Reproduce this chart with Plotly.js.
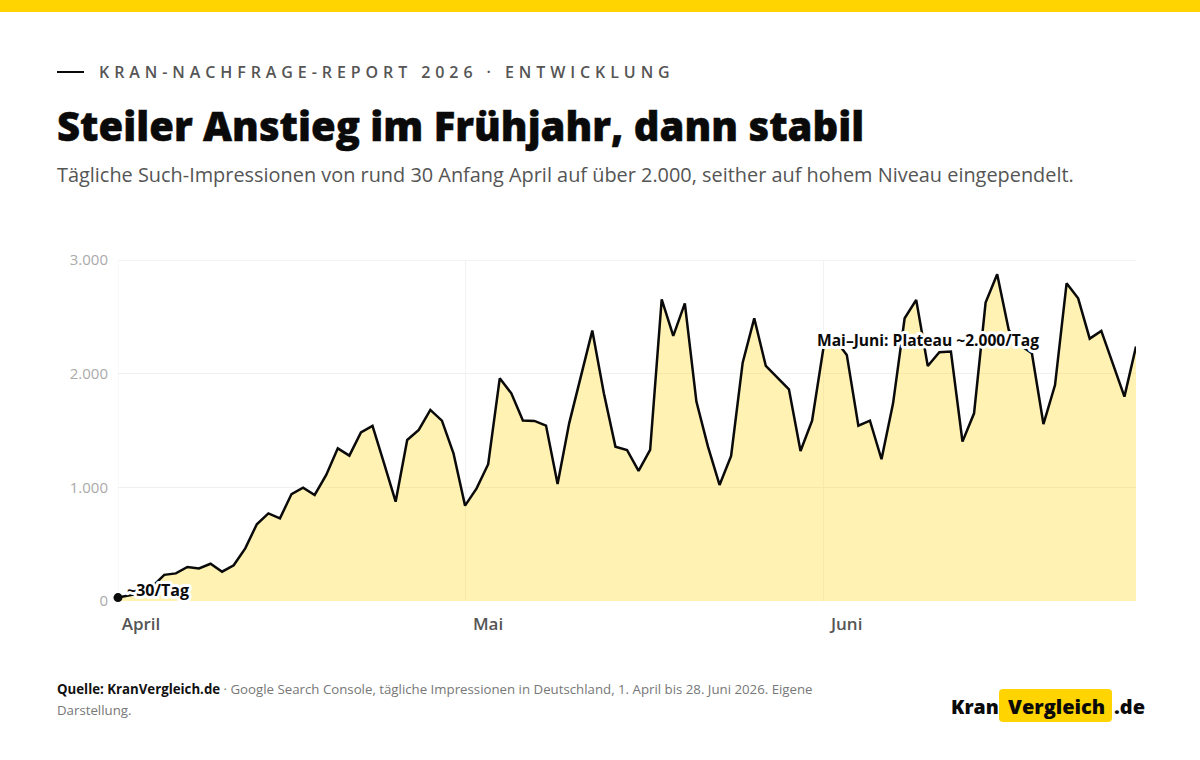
<!DOCTYPE html>
<html lang="de"><head><meta charset="utf-8">
<script src="https://cdn.plot.ly/plotly-3.0.1.min.js"></script>
<style>
html,body{margin:0;padding:0;background:#fff}
#c{width:1200px;height:760px}
.annotation[data-index="0"] text{letter-spacing:4.92px}
.annotation[data-index="2"] text,.annotation[data-index="3"] text{paint-order:stroke;stroke:#fff;stroke-width:6px;stroke-linejoin:round}
.gtitle{stroke:#0a0a0a;stroke-width:.5px}
</style></head><body><div id="c"></div>
<script>
const impressions = [30,50,70,130,230,243,299,287,328,258,314,463,675,771,727,941,997,933,1109,1343,1279,1484,1540,1211,874,1417,1505,1681,1587,1299,839,991,1203,1959,1827,1587,1584,1543,1030,1563,1974,2379,1827,1358,1329,1144,1329,2654,2332,2619,1754,1358,1021,1276,2097,2487,2068,1968,1862,1320,1587,2238,2300,2165,1543,1587,1247,1739,2487,2649,2068,2188,2194,1402,1651,2625,2874,2385,2250,2179,1557,1900,2795,2663,2308,2376,2091,1798,2238];
const monthTicks = ["2026-04-01","2026-05-01","2026-06-01"];
const monthLabels = ["April","Mai","Juni"];
const yTicks = [0,1000,2000,3000];
const eyebrow = "KRAN-NACHFRAGE-REPORT 2026 · ENTWICKLUNG";
const headline = "Steiler Anstieg im Frühjahr, dann stabil";
const subline = "Tägliche Such-Impressionen von rund 30 Anfang April auf über 2.000, seither auf hohem Niveau eingependelt.";
const startLabel = "~30/Tag";
const plateauLabel = "Mai–Juni: Plateau ~2.000/Tag";
const sourceLine1 = "<b style='color:#111'>Quelle: KranVergleich.de</b> · Google Search Console, tägliche Impressionen in Deutschland, 1. April bis 28. Juni 2026. Eigene";
const sourceLine2 = "Darstellung.";

const dates = impressions.map((_, i) => new Date(Date.UTC(2026, 3, 1 + i)).toISOString().slice(0, 10));
const W = 1200, H = 760, L = 118, R = 64, T = 260, B = 159;
const fx = p => (p - L) / (W - L - R), fy = p => (H - B - p) / (H - T - B);
const font = "'Open Sans','Noto Sans',sans-serif";
const note = (text, x, y, size, color, anchor, weight) => ({
  text, xref: "paper", yref: "paper", x: fx(x), y: fy(y), xanchor: anchor, yanchor: "middle",
  showarrow: false, align: "left", font: {family: font, size, color, weight: weight || 400}
});

const annotations = [
  note(eyebrow, 97, 72, 16, "#555", "left", 600),
  note(subline, 55, 174, 19.9, "#555", "left"),
  note(startLabel, 125, 590, 16, "#0a0a0a", "left", 700),
  note(plateauLabel, 928, 340, 15.6, "#0a0a0a", "center", 700),
  note(sourceLine1, 55, 689, 13.25, "#777", "left"),
  note(sourceLine2, 55, 710, 13.25, "#777", "left"),
  note("Kran", 949, 706, 19.5, "#0a0a0a", "left", 800),
  note("Vergleich", 1056, 706, 20, "#0a0a0a", "center", 800),
  note(".de", 1112, 706, 20, "#0a0a0a", "left", 800)
];
const rr = (x0, y0, x1, y1, r) => {
  const X = fx, Y = fy, rx = r / (W - L - R), ry = r / (H - T - B);
  return `M${X(x0)+rx},${Y(y0)} L${X(x1)-rx},${Y(y0)} Q${X(x1)},${Y(y0)} ${X(x1)},${Y(y0)-ry} L${X(x1)},${Y(y1)+ry} Q${X(x1)},${Y(y1)} ${X(x1)-rx},${Y(y1)} L${X(x0)+rx},${Y(y1)} Q${X(x0)},${Y(y1)} ${X(x0)},${Y(y1)+ry} L${X(x0)},${Y(y0)-ry} Q${X(x0)},${Y(y0)} ${X(x0)+rx},${Y(y0)} Z`;
};
const grid = "#f0f0f0";
const shapes = [
  {type:"rect",xref:"paper",yref:"paper",x0:fx(0),x1:fx(1200),y0:fy(0),y1:fy(12),fillcolor:"#FFD400",line:{width:0}},
  {type:"line",xref:"paper",yref:"paper",x0:fx(57),x1:fx(84),y0:fy(72),y1:fy(72),line:{color:"#0a0a0a",width:2}},
  {type:"path",xref:"paper",yref:"paper",path:rr(999,689,1112,722,4),fillcolor:"#FFD400",line:{width:0}},
  {type:"line",layer:"below",xref:"paper",yref:"y",x0:0,x1:1,y0:yTicks[3],y1:yTicks[3],line:{color:grid,width:1.5}},
  {type:"line",layer:"below",xref:"x",yref:"paper",x0:monthTicks[0],x1:monthTicks[0],y0:0,y1:1,line:{color:"#f6f6f6",width:1}}
];
Plotly.newPlot("c", [
  {x:dates,y:impressions,type:"scatter",mode:"lines",line:{color:"#0a0a0a",width:2.5,shape:"linear"},
   fill:"tozeroy",fillcolor:"rgba(255,212,0,0.3)",hoverinfo:"skip",cliponaxis:false},
  {x:dates.slice(0,1),y:impressions.slice(0,1),type:"scatter",mode:"markers",marker:{color:"#0a0a0a",size:9},hoverinfo:"skip",cliponaxis:false}
], {
  width:W,height:H,showlegend:false,paper_bgcolor:"#fff",plot_bgcolor:"#fff",separators:",.",
  margin:{l:L,r:R,t:T,b:B,pad:0},
  title:{text:headline,x:57/W,xanchor:"left",xref:"container",y:1-127/H,yanchor:"middle",yref:"container",pad:{l:0,r:0,t:0,b:0},
         font:{family:font,size:40,color:"#0a0a0a",weight:900}},
  xaxis:{type:"date",range:[dates[0],dates[dates.length-1]],tickmode:"array",tickvals:monthTicks,ticktext:monthLabels,
         showgrid:true,gridcolor:"#f2f2f2",gridwidth:1,zeroline:false,showline:false,ticks:"",ticklabelshift:23,ticklabelstandoff:11,
         tickfont:{family:font,size:17,color:"#555",weight:600},automargin:false},
  yaxis:{range:[0,3000],tickmode:"array",tickvals:yTicks,tickformat:",d",showgrid:true,gridcolor:grid,gridwidth:1,
         zeroline:false,showline:false,ticks:"",ticklabelstandoff:9,tickfont:{family:font,size:15,color:"#aaa"},automargin:false},
  annotations,shapes
},{displayModeBar:false,staticPlot:true});
</script></body></html>
